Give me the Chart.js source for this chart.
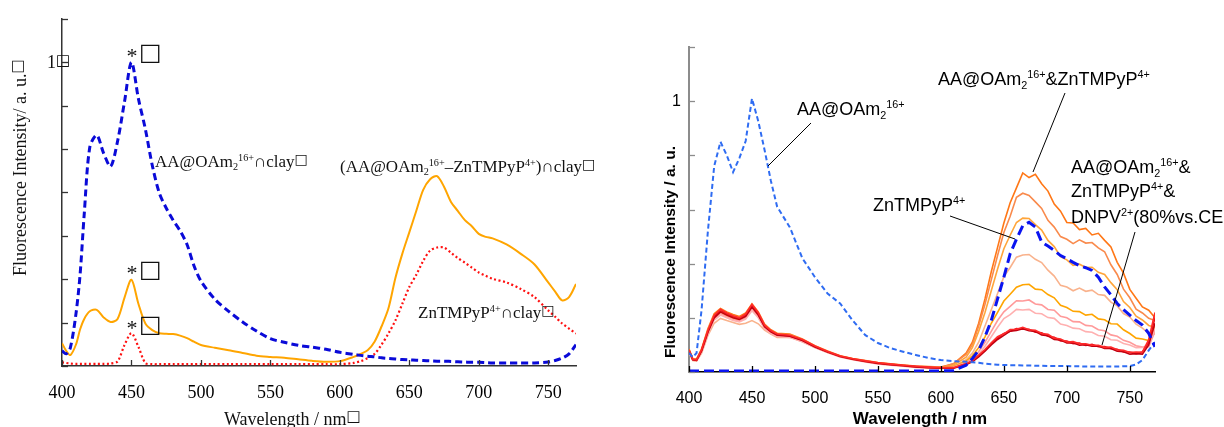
<!DOCTYPE html>
<html lang="en">
<head>
<meta charset="UTF-8" />
<title>Fluorescence spectra</title>
<script src="https://cdn.jsdelivr.net/npm/chart.js"></script>
<style>
  body { margin: 0; background: #fff; }
  .wrap { position: relative; width: 1224px; height: 427px; overflow: hidden; }
  canvas { position: absolute; top: 0; }
  #left { left: 0; }
  #right { left: 612px; }
</style>
</head>
<body>
<div class="wrap">
  <canvas id="left" width="612" height="427"></canvas>
  <canvas id="right" width="612" height="427"></canvas>
</div>
<script>
// ---- left panel (clay films) ----
const WL_L = [400,403,406,410,413,416,420,425,430,435,440,445,450,455,460,465,470,475,480,485,
  490,495,500,510,520,530,540,550,560,570,580,590,600,610,615,620,625,630,635,640,
  645,650,655,660,665,670,675,680,685,690,695,700,705,710,720,730,740,750,755,760,765,770];

const AA_CLAY = [.05,.04,.06,.17,.3,.5,.72,.76,.7,.657,.74,.87,1.0,.88,.78,.66,.57,.52,.48,.445,
  .4,.33,.28,.22,.18,.145,.115,.09,.078,.068,.062,.055,.045,.038,.035,.032,.03,.027,.025,.023,
  .021,.02,.019,.018,.017,.016,.016,.015,.014,.013,.012,.012,.011,.01,.01,.01,.01,.013,.018,.026,.04,.07];

const AA_ZN_CLAY = [.075,.05,.036,.07,.12,.155,.18,.185,.16,.145,.155,.225,.284,.205,.14,.118,.108,.106,.105,.1,
  .092,.08,.069,.06,.052,.043,.034,.03,.027,.022,.017,.014,.016,.03,.04,.052,.08,.13,.19,.29,
  .37,.44,.51,.58,.615,.625,.59,.54,.51,.48,.46,.435,.425,.42,.4,.37,.335,.275,.245,.216,.227,.27];

const ZN_CLAY = [.012,.01,.008,.007,.007,.007,.007,.007,.007,.008,.015,.069,.108,.063,.01,.006,.006,.006,.006,.006,
  .006,.006,.006,.006,.006,.006,.006,.006,.006,.006,.006,.006,.006,.01,.016,.026,.04,.07,.107,.15,
  .205,.26,.3,.346,.38,.39,.39,.373,.355,.34,.324,.308,.297,.287,.275,.254,.227,.183,.162,.14,.123,.107];

const XTICKS = [400,450,500,550,600,650,700,750];
const YTICKS_L = [0,1,2,3,4,5,6,7,8].map(i => i / 7);   // axis in sevenths, "1" at the 7th tick

// ---- right panel (solutions) ----
const WL_R = [400,403,406,410,415,420,425,430,435,440,445,450,455,460,465,470,480,490,500,510,
  520,530,540,550,560,570,580,590,600,610,620,625,630,635,640,645,650,655,660,665,
  670,675,680,685,690,695,700,705,710,715,720,725,730,735,740,745,750,755,760,765,770];

const AA_SOL = [.07,.055,.07,.23,.52,.76,.85,.8,.738,.79,.853,1.01,.926,.82,.706,.61,.535,.42,.35,.29,
  .253,.19,.136,.107,.088,.075,.063,.052,.044,.04,.038,.036,.034,.031,.029,.027,.026,.025,.025,.024,
  .024,.023,.023,.022,.022,.022,.022,.021,.021,.02,.02,.02,.02,.02,.02,.021,.022,.028,.044,.08,.11];

const ZN_SOL = [.004,.004,.004,.004,.004,.004,.004,.004,.004,.004,.004,.004,.004,.004,.004,.004,.004,.004,.004,.004,
  .004,.004,.004,.004,.004,.004,.004,.004,.004,.006,.025,.05,.08,.13,.19,.27,.35,.437,.49,.54,
  .553,.535,.48,.465,.449,.43,.418,.405,.393,.385,.375,.35,.314,.285,.253,.23,.21,.19,.173,.143,.093];

// AA@OAm2 & ZnTMPyP with increasing DNPV, top curve first
const MIX1 = [.085,.05,.048,.085,.16,.215,.235,.222,.212,.205,.218,.252,.222,.177,.156,.143,.14,.122,.097,.078,
  .06,.05,.042,.035,.03,.026,.022,.02,.018,.03,.07,.11,.18,.27,.37,.46,.55,.625,.68,.735,
  .718,.73,.695,.668,.62,.594,.552,.55,.526,.53,.506,.512,.486,.462,.405,.365,.305,.272,.24,.228,.2];
const MIX2 = [.082,.048,.046,.082,.155,.21,.23,.218,.208,.2,.212,.248,.218,.173,.152,.14,.137,.12,.095,.076,
  .059,.049,.041,.034,.029,.025,.021,.019,.017,.03,.065,.1,.17,.25,.34,.43,.515,.575,.645,.66,
  .652,.628,.604,.56,.535,.5,.49,.474,.488,.476,.478,.458,.444,.396,.36,.306,.274,.232,.218,.198,.19];
const MIX3 = [.08,.047,.045,.08,.152,.206,.226,.214,.204,.197,.208,.244,.214,.17,.15,.138,.135,.118,.094,.075,
  .058,.048,.04,.033,.028,.024,.02,.018,.016,.025,.055,.09,.15,.22,.3,.38,.455,.505,.552,.568,
  .567,.544,.524,.486,.463,.426,.414,.394,.398,.386,.387,.368,.36,.33,.304,.26,.238,.206,.192,.172,.165];
const MIX4 = [.07,.042,.04,.07,.135,.18,.198,.19,.183,.176,.18,.19,.178,.155,.14,.128,.128,.112,.09,.072,
  .056,.046,.039,.032,.027,.023,.019,.017,.015,.02,.045,.07,.11,.17,.23,.29,.352,.386,.424,.432,
  .434,.416,.404,.376,.354,.32,.314,.3,.31,.298,.302,.286,.283,.258,.244,.216,.203,.177,.162,.143,.14];
const MIX5 = [.078,.046,.044,.078,.148,.2,.22,.208,.198,.192,.204,.238,.208,.166,.147,.135,.132,.116,.092,.074,
  .057,.047,.039,.032,.027,.023,.019,.017,.015,.02,.04,.06,.09,.13,.18,.22,.262,.287,.313,.322,
  .324,.306,.304,.286,.274,.246,.238,.224,.223,.21,.213,.196,.193,.178,.177,.156,.142,.125,.122,.116,.16];
const MIX6 = [.076,.045,.043,.076,.145,.196,.216,.204,.195,.189,.2,.232,.204,.163,.145,.133,.13,.114,.091,.073,
  .056,.046,.038,.031,.026,.022,.018,.016,.014,.018,.035,.05,.075,.11,.15,.19,.222,.242,.263,.262,
  .266,.251,.248,.231,.228,.206,.2,.186,.185,.172,.17,.156,.152,.137,.132,.117,.11,.097,.092,.093,.15];
const MIX7 = [.074,.044,.042,.074,.142,.192,.21,.2,.19,.185,.195,.226,.2,.16,.142,.131,.128,.112,.09,.072,
  .055,.045,.037,.03,.025,.021,.017,.015,.013,.016,.03,.045,.065,.095,.13,.165,.197,.212,.231,.229,
  .231,.217,.215,.201,.198,.177,.172,.162,.16,.149,.147,.135,.132,.119,.117,.105,.1,.09,.091,.1,.16];
const MIX8 = [.08,.046,.044,.08,.15,.205,.228,.215,.205,.198,.21,.245,.215,.17,.15,.138,.134,.118,.094,.075,
  .058,.048,.04,.033,.028,.024,.02,.017,.015,.015,.03,.04,.06,.08,.105,.125,.142,.15,.16,.158,
  .158,.147,.145,.132,.128,.115,.114,.105,.107,.098,.102,.093,.094,.086,.084,.074,.074,.068,.074,.11,.2];
const MIX9 = [.078,.045,.043,.078,.147,.2,.222,.21,.2,.194,.205,.24,.21,.167,.148,.136,.132,.116,.092,.074,
  .057,.047,.039,.032,.027,.023,.019,.016,.014,.014,.028,.038,.056,.077,.1,.12,.135,.151,.153,.16,
  .152,.15,.137,.134,.12,.118,.107,.108,.099,.101,.095,.096,.087,.087,.077,.075,.066,.068,.066,.1,.18];
const MIX10 = [.082,.047,.045,.082,.153,.21,.232,.218,.208,.2,.214,.25,.219,.173,.153,.14,.136,.12,.096,.076,
  .059,.049,.041,.034,.029,.025,.021,.018,.016,.016,.03,.042,.062,.083,.108,.13,.141,.157,.158,.165,
  .156,.154,.142,.139,.125,.122,.111,.112,.104,.104,.099,.099,.091,.092,.082,.08,.072,.074,.073,.12,.22];
const MIX_COLORS = ['#ff7716','#f98a4c','#ffa53a','#f9b28c','#ffa500','#ff9a9a','#ffb0b0','#e8101a','#c20010','#ff2a2a'];
const YTICKS_R = [0, 0.2, 0.4, 0.6, 0.8, 1, 1.2];

const pts = (wl, ys) => wl.map((w, i) => ({ x: w, y: ys[i] }));

const SERIF = '"Liberation Serif", "DejaVu Serif", serif';
const SANS = '"Liberation Sans", Arial, sans-serif';
const BOXFONT = '"DejaVu Sans"';

// draw text pieces: 0 normal, 1 superscript, -1 subscript, 2 box glyph
function rich(ctx, x, y, parts, size, family, weight) {
  let cx = x;
  ctx.textAlign = 'left';
  ctx.textBaseline = 'alphabetic';
  parts.forEach(([t, k]) => {
    let s = size, fam = family, dy = 0;
    if (k === 1) { s = size * 0.6; dy = -size * 0.38; }
    if (k === -1) { s = size * 0.6; dy = size * 0.2; }
    if (k === 2) { s = size * 0.85; fam = BOXFONT; dy = -size * 0.2; }
    ctx.font = (weight || '') + ' ' + s + 'px ' + fam;
    ctx.fillText(t, cx, y + dy);
    cx += ctx.measureText(t).width;
  });
}

function leader(ctx, x1, y1, x2, y2) {
  ctx.beginPath();
  ctx.moveTo(x1, y1);
  ctx.lineTo(x2, y2);
  ctx.stroke();
}

// inward tick marks on both axes
const inTicks = {
  id: 'inTicks',
  afterDraw(chart, args, o) {
    const { ctx, chartArea: a, scales: { x, y } } = chart;
    ctx.save();
    ctx.lineWidth = o.width;
    ctx.strokeStyle = o.xColor;
    x.ticks.forEach(t => {
      const px = Math.round(x.getPixelForValue(t.value)) + 0.5;
      leader(ctx, px, a.bottom, px, a.bottom - o.len);
    });
    ctx.strokeStyle = o.yColor;
    y.ticks.forEach(t => {
      const py = Math.round(y.getPixelForValue(t.value)) + 0.5;
      leader(ctx, a.left, py, a.left + o.len, py);
    });
    ctx.restore();
  }
};

function baseOptions(o) {
  return {
    responsive: false,
    animation: false,
    layout: { padding: o.pad },
    elements: { point: { radius: 0 } },
    plugins: { legend: { display: false }, tooltip: { enabled: false }, inTicks: o.ticks },
    scales: {
      x: {
        type: 'linear', min: 400, max: 770,
        afterBuildTicks: s => { s.ticks = XTICKS.map(v => ({ value: v })); },
        afterFit: s => { s.height = o.xh; },
        grid: { display: false, drawTicks: false },
        border: { display: true, color: o.xColor, width: o.xw },
        ticks: { autoSkip: false, maxRotation: 0, padding: o.xpad, color: '#000', font: o.tickFont }
      },
      y: {
        min: 0, max: o.ymax,
        afterBuildTicks: s => { s.ticks = o.yticks.map(v => ({ value: v })); },
        afterFit: s => { s.width = o.yw; },
        grid: { display: false, drawTicks: false },
        border: { display: true, color: o.yColor, width: o.ywid },
        ticks: {
          autoSkip: false, padding: o.ypad, color: '#000', font: o.tickFont,
          callback: v => Math.abs(v - 1) < 1e-6 ? o.oneLabel : ''
        }
      }
    }
  };
}

// ---------- left chart ----------
const leftNotes = {
  id: 'leftNotes',
  afterDraw(chart) {
    const ctx = chart.ctx;
    const y = chart.scales.y;
    ctx.save();
    ctx.fillStyle = '#111';
    // "1□" tick label sits across the axis line
    rich(ctx, 47, y.getPixelForValue(1) + 6, [['1', 0], ['□', 2]], 18, SERIF);
    rich(ctx, 155, 167, [['AA@OAm', 0], ['2', -1], ['16+', 1], ['∩clay', 0], ['□', 2]], 17, SERIF);
    rich(ctx, 340, 172, [['(AA@OAm', 0], ['2', -1], ['16+', 1], ['–ZnTMPyP', 0], ['4+', 1], [')∩clay', 0], ['□', 2]], 17, SERIF);
    rich(ctx, 418, 318, [['ZnTMPyP', 0], ['4+', 1], ['∩clay', 0], ['□', 2]], 17, SERIF);
    [53, 270, 325].forEach(yc => {
      ctx.font = '22px ' + SERIF;
      ctx.textAlign = 'center';
      ctx.textBaseline = 'middle';
      ctx.fillText('*', 132, yc + 4);
      ctx.font = '24px ' + BOXFONT;
      ctx.textAlign = 'left';
      ctx.fillText('□', 139, yc + 1);
    });
    // axis titles
    rich(ctx, 224, 425, [['Wavelength / nm', 0], ['□', 2]], 18, SERIF);
    ctx.translate(26, 276);
    ctx.rotate(-Math.PI / 2);
    rich(ctx, 0, 0, [['Fluorescence Intensity/ a. u.', 0], ['□', 2]], 18, SERIF);
    ctx.restore();
  }
};

new Chart(document.getElementById('left'), {
  type: 'line',
  data: {
    datasets: [
      { data: pts(WL_L, AA_CLAY), borderColor: '#0a0ad8', borderWidth: 3, borderDash: [7, 4], tension: 0.3 },
      { data: pts(WL_L, AA_ZN_CLAY), borderColor: '#ffa500', borderWidth: 2, tension: 0.3 },
      { data: pts(WL_L, ZN_CLAY), borderColor: '#ff1010', borderWidth: 2.2, borderDash: [2, 2.5], tension: 0.3 }
    ]
  },
  options: baseOptions({
    pad: { top: 16, right: 36, left: 0, bottom: 0 },
    xh: 61, yw: 62, ymax: 8 / 7, yticks: YTICKS_L, oneLabel: '',
    xColor: '#333', xw: 1.5, yColor: '#333', ywid: 1.5,
    xpad: 16, ypad: 8,
    tickFont: { family: SERIF, size: 18 },
    ticks: { len: 6, width: 1.3, xColor: '#333', yColor: '#333' }
  }),
  plugins: [inTicks, leftNotes]
});

// ---------- right chart ----------
const rightNotes = {
  id: 'rightNotes',
  afterDraw(chart) {
    const ctx = chart.ctx;
    ctx.save();
    ctx.fillStyle = '#000';
    ctx.strokeStyle = '#000';
    ctx.lineWidth = 1;
    rich(ctx, 185, 115, [['AA@OAm', 0], ['2', -1], ['16+', 1]], 18, SANS);
    leader(ctx, 199, 123, 156, 166);
    rich(ctx, 326, 85, [['AA@OAm', 0], ['2', -1], ['16+', 1], ['&ZnTMPyP', 0], ['4+', 1]], 18, SANS);
    leader(ctx, 453, 93, 421, 172);
    rich(ctx, 459, 173, [['AA@OAm', 0], ['2', -1], ['16+', 1], ['&', 0]], 18, SANS);
    rich(ctx, 459, 197, [['ZnTMPyP', 0], ['4+', 1], ['&', 0]], 18, SANS);
    rich(ctx, 459, 223, [['DNPV', 0], ['2+', 1], ['(80%vs.CEC)', 0]], 18, SANS);
    leader(ctx, 523, 232, 490, 345);
    rich(ctx, 261, 211, [['ZnTMPyP', 0], ['4+', 1]], 18, SANS);
    leader(ctx, 338, 216, 403, 239);
    // axis titles
    ctx.font = 'bold 17px ' + SANS;
    ctx.textAlign = 'center';
    ctx.textBaseline = 'middle';
    ctx.fillText('Wavelength / nm', 308, 419);
    ctx.font = 'bold 15.5px ' + SANS;
    ctx.translate(59, 252);
    ctx.rotate(-Math.PI / 2);
    ctx.fillText('Fluorescence Intensity / a. u.', 0, 0);
    ctx.restore();
  }
};

// reds last in the list so they end up drawn over the orange curves
const mixSets = [MIX10, MIX9, MIX8, MIX7, MIX6, MIX5, MIX4, MIX3, MIX2, MIX1].map((arr, i) => ({
  data: pts(WL_R, arr), borderColor: MIX_COLORS[9 - i], borderWidth: 1.6
}));

new Chart(document.getElementById('right'), {
  type: 'line',
  data: {
    datasets: [
      { data: pts(WL_R, ZN_SOL), borderColor: '#0a14f0', borderWidth: 3, borderDash: [10, 5] },
      { data: pts(WL_R, AA_SOL), borderColor: '#2f6cf2', borderWidth: 2, borderDash: [5, 3] }
    ].concat(mixSets)
  },
  options: baseOptions({
    pad: { top: 47, right: 69, left: 0, bottom: 0 },
    xh: 55, yw: 77, ymax: 1.2, yticks: YTICKS_R, oneLabel: '1',
    xColor: '#000', xw: 1.5, yColor: '#8c8c8c', ywid: 2,
    xpad: 17, ypad: 8,
    tickFont: { family: SANS, size: 16 },
    ticks: { len: 6, width: 1.3, xColor: '#000', yColor: '#8c8c8c' }
  }),
  plugins: [inTicks, rightNotes]
});
</script>
</body>
</html>
